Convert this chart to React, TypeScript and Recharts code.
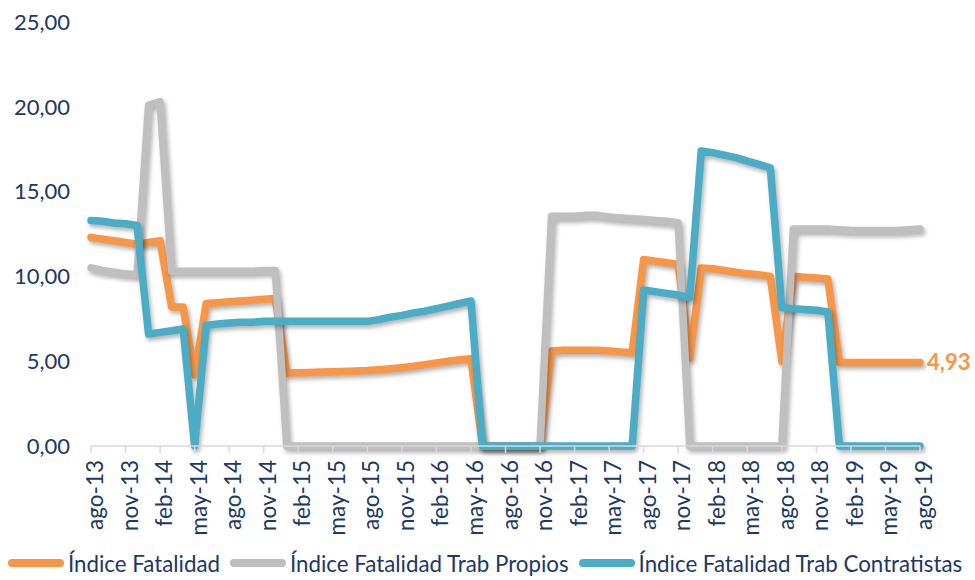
import { LineChart, Line, XAxis, YAxis, Legend } from "recharts";

// monthly index values, ago-13 .. ago-19
const meses = [
  "ago-13", "sep-13", "oct-13", "nov-13", "dic-13", "ene-14", "feb-14", "mar-14", "abr-14", "may-14",
  "jun-14", "jul-14", "ago-14", "sep-14", "oct-14", "nov-14", "dic-14", "ene-15", "feb-15", "mar-15",
  "abr-15", "may-15", "jun-15", "jul-15", "ago-15", "sep-15", "oct-15", "nov-15", "dic-15", "ene-16",
  "feb-16", "mar-16", "abr-16", "may-16", "jun-16", "jul-16", "ago-16", "sep-16", "oct-16", "nov-16",
  "dic-16", "ene-17", "feb-17", "mar-17", "abr-17", "may-17", "jun-17", "jul-17", "ago-17", "sep-17",
  "oct-17", "nov-17", "dic-17", "ene-18", "feb-18", "mar-18", "abr-18", "may-18", "jun-18", "jul-18",
  "ago-18", "sep-18", "oct-18", "nov-18", "dic-18", "ene-19", "feb-19", "mar-19", "abr-19", "may-19",
  "jun-19", "jul-19", "ago-19",
];

const indiceFatalidad = [
  12.3, 12.2, 12.1, 12.0, 11.9, 12.0, 12.1, 8.2, 8.2, 4.2,
  8.4, 8.45, 8.5, 8.55, 8.6, 8.65, 8.7, 4.3, 4.32, 4.34,
  4.36, 4.38, 4.4, 4.42, 4.45, 4.5, 4.55, 4.62, 4.7, 4.8,
  4.9, 5.0, 5.08, 5.15, 0, 0, 0, 0, 0, 0,
  5.6, 5.65, 5.65, 5.65, 5.65, 5.6, 5.55, 5.5, 11.0, 10.9,
  10.8, 10.7, 5.2, 10.5, 10.45, 10.35, 10.25, 10.15, 10.1, 10.0,
  5.0, 10.0, 9.95, 9.9, 9.85, 4.93, 4.93, 4.93, 4.93, 4.93,
  4.93, 4.93, 4.93,
];

const trabPropios = [
  10.5, 10.35, 10.25, 10.15, 10.1, 20.1, 20.3, 10.3, 10.3, 10.3,
  10.3, 10.3, 10.3, 10.3, 10.3, 10.35, 10.35, 0, 0, 0,
  0, 0, 0, 0, 0, 0, 0, 0, 0, 0,
  0, 0, 0, 0, 0, 0, 0, 0, 0, 0,
  13.55, 13.55, 13.55, 13.6, 13.6, 13.5, 13.45, 13.4, 13.35, 13.3,
  13.25, 13.15, 0, 0, 0, 0, 0, 0, 0, 0,
  0, 12.8, 12.8, 12.8, 12.8, 12.75, 12.7, 12.7, 12.7, 12.7,
  12.7, 12.75, 12.8,
];

const trabContratistas = [
  13.3, 13.25, 13.15, 13.1, 13.0, 6.6, 6.7, 6.8, 6.9, 0,
  7.1, 7.2, 7.25, 7.3, 7.3, 7.35, 7.35, 7.35, 7.35, 7.35,
  7.35, 7.35, 7.35, 7.35, 7.35, 7.45, 7.6, 7.7, 7.85, 7.95,
  8.1, 8.25, 8.4, 8.55, 0, 0, 0, 0, 0, 0,
  0, 0, 0, 0, 0, 0, 0, 0, 9.2, 9.1,
  9.0, 8.9, 8.75, 17.4, 17.3, 17.15, 17.0, 16.8, 16.6, 16.4,
  8.15, 8.1, 8.05, 8.0, 7.9, 0, 0, 0, 0, 0,
  0, 0, 0,
];

const yTicks = [0, 5, 10, 15, 20, 25];

const NAVY = "#203864";
const FONT = "Lato, 'Open Sans', sans-serif";
const ORANGE = "#F79646";
const GRAY = "#BFBFBF";
const TEAL = "#4BACC6";

const series = [
  { key: "fat", name: "Índice Fatalidad", color: ORANGE },
  { key: "propios", name: "Índice Fatalidad Trab Propios", color: GRAY },
  { key: "contr", name: "Índice Fatalidad Trab Contratistas", color: TEAL },
];

const data = meses.map((mes, i) => ({
  mes,
  fat: indiceFatalidad[i],
  propios: trabPropios[i],
  contr: trabContratistas[i],
}));

const fmt = (v: number) => v.toFixed(2).replace(".", ",");

function MesTick({ x, y, payload }: any) {
  return (
    <text
      transform={`translate(${x + 12},${y + 5}) rotate(-90)`}
      textAnchor="end"
      fill={NAVY}
      fontSize={22.5}
      fontFamily={FONT}
    >
      {payload.value}
    </text>
  );
}

// only the last point of the orange series gets its value
function UltimoValor({ x, y, index, value }: any) {
  if (index !== meses.length - 1) return null;
  return (
    <text x={x + 7} y={y} dy="0.35em" fill={ORANGE} fontSize={22} fontWeight={700} fontFamily={FONT}>
      {fmt(value)}
    </text>
  );
}

function Leyenda() {
  return (
    <div style={{ display: "flex", alignItems: "center", height: 30, paddingLeft: 8, fontFamily: FONT, fontSize: 22.3, color: NAVY }}>
      {series.map((s) => (
        <div key={s.key} style={{ display: "flex", alignItems: "center", marginRight: 10 }}>
          <svg width={56} height={10} style={{ marginRight: 4 }}>
            <line x1={4} y1={5} x2={52} y2={5} stroke={s.color} strokeWidth={8} strokeLinecap="round" />
          </svg>
          <span style={{ whiteSpace: "nowrap" }}>{s.name}</span>
        </div>
      ))}
    </div>
  );
}

export default function App() {
  return (
    <div style={{ position: "absolute", left: 0, top: 0, background: "#fff" }}>
      <style>{`.recharts-line-curve { filter: drop-shadow(2px 3px 2px rgba(0,0,0,0.3)); }`}</style>
      <LineChart width={975} height={580} data={data} margin={{ top: 22, right: 55, bottom: 2, left: 0 }}>
        <XAxis
          dataKey="mes"
          interval={2}
          height={102}
          tick={<MesTick />}
          tickSize={7}
          stroke="#D9D9D9"
          axisLine={{ stroke: "#D9D9D9", strokeWidth: 1.5 }}
          tickLine={{ stroke: "#D9D9D9", strokeWidth: 1.5 }}
        />
        <YAxis
          width={91}
          domain={[0, 25]}
          ticks={yTicks}
          tickFormatter={fmt}
          axisLine={false}
          tickLine={false}
          tickMargin={15}
          tick={{ fill: NAVY, fontSize: 22, fontFamily: FONT }}
        />
        <Legend verticalAlign="bottom" height={30} wrapperStyle={{ left: 0, width: 975 }} content={<Leyenda />} />
        {series.map((s) => (
          <Line
            key={s.key}
            dataKey={s.key}
            name={s.name}
            stroke={s.color}
            strokeWidth={7.5}
            strokeLinecap="round"
            strokeLinejoin="round"
            dot={false}
            activeDot={false}
            isAnimationActive={false}
            label={s.key === "fat" ? <UltimoValor /> : undefined}
          />
        ))}
      </LineChart>
    </div>
  );
}
